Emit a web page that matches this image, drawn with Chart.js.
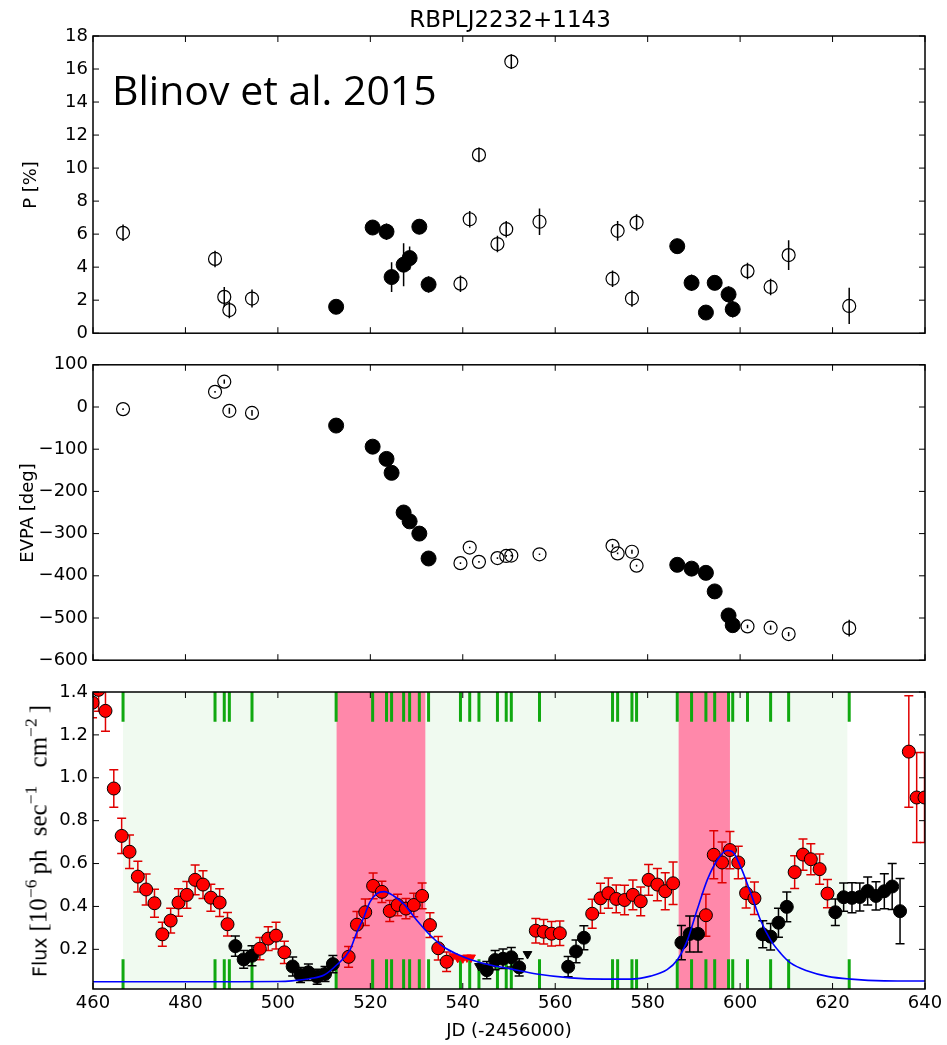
<!DOCTYPE html>
<html>
<head>
<meta charset="utf-8">
<script src="https://cdn.jsdelivr.net/npm/chart.js@4.4.1/dist/chart.umd.min.js"></script>
<style>
    body { margin: 0; background: #fff; width: 947px; height: 1045px; position: relative; overflow: hidden; font-family: "DejaVu Sans", sans-serif; color: #000; }
    canvas { position: absolute; left: 0; }
    .txt { position: absolute; white-space: nowrap; line-height: 1; }
    .ylab { position: absolute; white-space: nowrap; line-height: 1; font-size: 18px; transform: translate(-50%, -50%) rotate(-90deg); }
    .m { font-family: "Liberation Serif", "DejaVu Serif", serif; font-size: 25px; word-spacing: 7px; }
    sup { font-size: 0.7em; vertical-align: 0.55em; line-height: 0; margin-right: 5px; }
</style>
</head>
<body>
<canvas id="cP" width="947" height="349" style="top:0"></canvas>
<canvas id="cE" width="947" height="327" style="top:349px"></canvas>
<canvas id="cF" width="947" height="369" style="top:676px"></canvas>

<div class="txt" style="left:510px; top:8px; font-size:23px; transform:translateX(-50%)">RBPLJ2232+1143</div>
<div class="txt" style="left:112px; top:69px; font-family:'Open Sans', sans-serif; font-size:41px">Blinov et al. 2015</div>
<div class="ylab" style="left:30px; top:185px">P [%]</div>
<div class="ylab" style="left:27px; top:513px">EVPA [deg]</div>
<div class="ylab" style="left:38px; top:841px; font-size:19px">Flux <span class="m">[10<sup>−6</sup>ph sec<sup>−1</sup> cm<sup>−2</sup>]</span></div>
<div class="txt" style="left:509px; top:1021px; font-size:18px; transform:translateX(-50%)">JD (-2456000)</div>

<script>
// axis ticks
const JD_TICKS = [460, 480, 500, 520, 540, 560, 580, 600, 620, 640];
const P_TICKS = [0, 2, 4, 6, 8, 10, 12, 14, 16, 18];
const EVPA_TICKS = [-600, -500, -400, -300, -200, -100, 0, 100];
const FLUX_TICKS = [0.2, 0.4, 0.6, 0.8, 1.0, 1.2, 1.4];

// optical polarization (RoboPol)
const POL_JD = [466.5, 486.4, 488.4, 489.5, 494.4, 512.6, 520.5, 523.5, 524.6, 527.2, 528.5, 530.6, 532.6,
    539.5, 541.5, 543.5, 547.5, 549.4, 550.5, 556.6, 572.4, 573.5, 576.6, 577.6,
    586.4, 589.5, 592.6, 594.5, 597.5, 598.4, 601.6, 606.6, 610.5, 623.6];
const POL_P = [6.08, 4.5, 2.2, 1.4, 2.1, 1.6, 6.4, 6.15, 3.4, 4.15, 4.55, 6.45, 2.95,
    3.0, 6.9, 10.8, 5.4, 6.3, 16.45, 6.75, 3.3, 6.2, 2.1, 6.7,
    5.27, 3.05, 1.25, 3.05, 2.35, 1.45, 3.76, 2.8, 4.73, 1.65];
const POL_P_ERR = [0.5, 0.5, 0.6, 0.5, 0.55, 0.35, 0.4, 0.5, 0.9, 1.3, 0.7, 0.45, 0.5,
    0.5, 0.5, 0.45, 0.5, 0.5, 0.45, 0.8, 0.5, 0.6, 0.5, 0.5,
    0.45, 0.5, 0.4, 0.45, 0.5, 0.5, 0.5, 0.5, 0.9, 1.1];
const POL_EVPA = [-5, 36, 60, -9, -14, -44, -94, -123, -156, -250, -271, -300, -359,
    -370, -333, -367, -358, -353, -352, -349, -329, -347, -343, -376,
    -374, -383, -393, -437, -494, -517, -520, -523, -538, -524];
const POL_EVPA_ERR = [2, 2, 5, 7, 7, 3, 2, 2, 6, 8, 5, 2, 4,
    2, 2, 2, 2, 2, 2, 2, 4, 2, 5, 2,
    2, 2, 5, 3, 4, 5, 4, 5, 5, 20];
const POL_IN_ROTATION = [0, 0, 0, 0, 0, 1, 1, 1, 1, 1, 1, 1, 1,
    0, 0, 0, 0, 0, 0, 0, 0, 0, 0, 0,
    1, 1, 1, 1, 1, 1, 0, 0, 0, 0];

// shaded periods
const MONITORING_SPAN = [466.5, 623.2];
const ROTATION_SPANS = [[512.7, 531.9], [586.7, 597.8]];

// gamma-ray flux (Fermi-LAT)
const RED_JD = [459.9, 461.2, 462.7, 464.5, 466.2, 467.9, 469.7, 471.5, 473.3, 475.0, 476.8, 478.5, 480.3, 482.1,
    483.8, 485.5, 487.4, 489.1, 496.1, 497.9, 499.6, 501.4, 515.3, 517.1, 518.9, 520.6, 522.5, 524.2,
    525.9, 527.7, 529.4, 531.2, 532.9, 534.7, 536.5, 555.8, 557.5, 559.2, 561.0, 568.0, 569.8, 571.5,
    573.2, 575.0, 576.8, 578.5, 580.2, 582.1, 583.8, 585.5, 592.6, 594.3, 596.1, 597.8, 599.6, 601.3,
    603.1, 611.8, 613.6, 615.3, 617.2, 618.9, 636.5, 638.2, 639.9];
const RED_FLUX = [1.35, 1.41, 1.312, 0.95, 0.729, 0.655, 0.539, 0.479, 0.415, 0.27, 0.334, 0.418, 0.454, 0.524,
    0.502, 0.441, 0.418, 0.317, 0.203, 0.25, 0.264, 0.186, 0.165, 0.315, 0.373, 0.496, 0.468, 0.379,
    0.407, 0.39, 0.407, 0.449, 0.313, 0.205, 0.142, 0.287, 0.282, 0.273, 0.275, 0.366, 0.438, 0.462,
    0.435, 0.43, 0.454, 0.424, 0.524, 0.502, 0.471, 0.508, 0.359, 0.641, 0.605, 0.663, 0.605, 0.462,
    0.438, 0.56, 0.642, 0.62, 0.574, 0.46, 1.122, 0.908, 0.908];
const RED_ERR = [0.07, 0.10, 0.095, 0.087, 0.082, 0.078, 0.072, 0.072, 0.065, 0.056, 0.058, 0.064, 0.062, 0.069,
    0.065, 0.063, 0.065, 0.055, 0.052, 0.055, 0.062, 0.052, 0.048, 0.061, 0.062, 0.06, 0.05, 0.049,
    0.05, 0.047, 0.055, 0.06, 0.058, 0.055, 0.045, 0.057, 0.057, 0.057, 0.057, 0.068, 0.07, 0.071,
    0.065, 0.069, 0.069, 0.067, 0.072, 0.075, 0.086, 0.099, 0.098, 0.112, 0.095, 0.087, 0.076, 0.069,
    0.076, 0.076, 0.073, 0.072, 0.071, 0.066, 0.26, 0.21, 0.21];
const BLACK_JD = [490.8, 492.6, 494.4, 503.2, 504.9, 506.6, 508.5, 510.2, 511.9, 545.2, 547.0, 548.7, 550.5,
    552.2, 562.8, 564.5, 566.2, 587.3, 589.1, 590.9, 604.9, 606.6, 608.3, 610.1, 620.6, 622.4, 624.2,
    625.9, 627.6, 629.4, 631.2, 632.9, 634.6];
const BLACK_FLUX = [0.215, 0.153, 0.17, 0.12, 0.08, 0.093, 0.072, 0.085, 0.131, 0.103, 0.15, 0.156, 0.163,
    0.116, 0.119, 0.19, 0.254, 0.231, 0.272, 0.272, 0.27, 0.259, 0.324, 0.398, 0.373, 0.443, 0.44,
    0.444, 0.472, 0.449, 0.471, 0.493, 0.378];
const BLACK_ERR = [0.047, 0.041, 0.047, 0.044, 0.035, 0.038, 0.035, 0.035, 0.04, 0.04, 0.045, 0.045, 0.045,
    0.04, 0.047, 0.053, 0.056, 0.08, 0.084, 0.084, 0.063, 0.062, 0.068, 0.069, 0.062, 0.066, 0.07,
    0.065, 0.065, 0.066, 0.082, 0.107, 0.152];
const RED_UL_JD = [537.9, 538.9, 540.0, 540.9, 541.8];
const RED_UL = [0.168, 0.16, 0.158, 0.162, 0.162];
const BLACK_UL_JD = [543.5, 554.0];
const BLACK_UL = [0.122, 0.178];

// model curve
const MODEL_JD = [460, 490, 500, 503, 507, 510, 512.7, 515.6, 517, 518.5, 519.9, 521.4, 523, 525, 527.2, 530,
    532.9, 535.8, 538.7, 541.6, 545.9, 550.3, 556, 563.3, 570.5, 576.3, 580.6, 584.2, 586.4, 588.6,
    590.7, 592.9, 595.1, 597.2, 598.3, 600.1, 602.3, 604.4, 606.6, 608.8, 610.9, 614.6, 618.9, 624,
    631.2, 640];
const MODEL_FLUX = [0.049, 0.049, 0.050, 0.053, 0.064, 0.08, 0.127, 0.197, 0.275, 0.345, 0.42, 0.46, 0.469,
    0.45, 0.412, 0.337, 0.267, 0.212, 0.178, 0.153, 0.127, 0.109, 0.085, 0.067, 0.061, 0.061, 0.075,
    0.105, 0.15, 0.243, 0.384, 0.524, 0.618, 0.661, 0.656, 0.586, 0.462, 0.337, 0.243, 0.181, 0.137,
    0.099, 0.074, 0.061, 0.053, 0.052];

const TICK_FONT = {family: '"DejaVu Sans", sans-serif', size: 18};

function l(element) {
    return document.getElementById(element);
}

function points(xs, ys, errs, keep) {
    let out = [];
    for (let i = 0; i < xs.length; i++) {
        if (keep && !keep(i)) continue;
        out.push({x: xs[i], y: ys[i], err: errs ? errs[i] : 0});
    }
    return out;
}

function clipArea(ctx, a) {
    ctx.beginPath();
    ctx.rect(a.left, a.top, a.right - a.left, a.bottom - a.top);
    ctx.clip();
}

// shaded periods and green observation markers
const spans = {
    id: 'spans',
    beforeDatasetsDraw(chart) {
        const ctx = chart.ctx, a = chart.chartArea, x = chart.scales.x;
        const h = a.bottom - a.top;
        ctx.save();
        clipArea(ctx, a);
        let x0 = x.getPixelForValue(MONITORING_SPAN[0]), x1 = x.getPixelForValue(MONITORING_SPAN[1]);
        ctx.fillStyle = '#f0faf0';
        ctx.fillRect(x0, a.top, x1 - x0, h);
        ctx.fillStyle = '#ff88aa';
        for (let s of ROTATION_SPANS) {
            x0 = x.getPixelForValue(s[0]);
            x1 = x.getPixelForValue(s[1]);
            ctx.fillRect(x0, a.top, x1 - x0, h);
        }
        ctx.strokeStyle = '#10a810';
        ctx.lineWidth = 3;
        ctx.beginPath();
        for (let jd of POL_JD) {
            let px = x.getPixelForValue(jd);
            ctx.moveTo(px, a.top);
            ctx.lineTo(px, a.top + 0.1 * h);
            ctx.moveTo(px, a.bottom - 0.1 * h);
            ctx.lineTo(px, a.bottom);
        }
        ctx.stroke();
        ctx.restore();
    }
};

const errorBars = {
    id: 'errorBars',
    beforeDatasetsDraw(chart) {
        const ctx = chart.ctx, y = chart.scales.y;
        ctx.save();
        clipArea(ctx, chart.chartArea);
        chart.data.datasets.forEach((ds, i) => {
            if (!ds.errColor) return;
            const meta = chart.getDatasetMeta(i);
            ctx.strokeStyle = ds.errColor;
            ctx.lineWidth = 1.5;
            ds.data.forEach((p, j) => {
                const px = meta.data[j].x;
                const lo = y.getPixelForValue(p.y - p.err);
                const hi = y.getPixelForValue(p.y + p.err);
                ctx.beginPath();
                ctx.moveTo(px, lo);
                ctx.lineTo(px, hi);
                if (ds.cap) {
                    ctx.moveTo(px - ds.cap, lo);
                    ctx.lineTo(px + ds.cap, lo);
                    ctx.moveTo(px - ds.cap, hi);
                    ctx.lineTo(px + ds.cap, hi);
                }
                ctx.stroke();
            });
        });
        ctx.restore();
    }
};

// box with inward ticks, matplotlib style
const frame = {
    id: 'frame',
    afterDatasetsDraw(chart) {
        const ctx = chart.ctx, a = chart.chartArea, x = chart.scales.x, y = chart.scales.y;
        ctx.save();
        ctx.strokeStyle = '#000';
        ctx.lineWidth = 1;
        ctx.beginPath();
        for (let v of JD_TICKS) {
            let px = x.getPixelForValue(v);
            ctx.moveTo(px, a.top);
            ctx.lineTo(px, a.top + 6);
            ctx.moveTo(px, a.bottom);
            ctx.lineTo(px, a.bottom - 6);
        }
        for (let t of y.ticks) {
            let py = y.getPixelForValue(t.value);
            ctx.moveTo(a.left, py);
            ctx.lineTo(a.left + 6, py);
            ctx.moveTo(a.right, py);
            ctx.lineTo(a.right - 6, py);
        }
        ctx.stroke();
        ctx.lineWidth = 1.5;
        ctx.strokeRect(a.left, a.top, a.right - a.left, a.bottom - a.top);
        ctx.restore();
    }
};

function makeChart(id, datasets, yMin, yMax, yTicks, yLabel, padding, showX, plugins) {
    return new Chart(l(id), {
        type: 'scatter',
        data: {datasets: datasets},
        options: {
            responsive: false,
            animation: false,
            events: [],
            layout: {padding: padding},
            plugins: {legend: {display: false}, tooltip: {enabled: false}},
            scales: {
                x: {
                    type: 'linear', min: 460, max: 640, display: showX,
                    afterBuildTicks: s => { s.ticks = JD_TICKS.map(v => ({value: v})); },
                    afterFit: s => { s.height = showX ? 40 : 0; },
                    grid: {display: false, drawTicks: false},
                    border: {display: false},
                    ticks: {font: TICK_FONT, color: '#000', padding: 4, maxRotation: 0, autoSkip: false}
                },
                y: {
                    type: 'linear', min: yMin, max: yMax,
                    afterBuildTicks: s => { s.ticks = yTicks.map(v => ({value: v})); },
                    afterFit: s => { s.width = 93; },
                    grid: {display: false, drawTicks: false},
                    border: {display: false},
                    ticks: {font: TICK_FONT, color: '#000', padding: 5, autoSkip: false, callback: yLabel}
                }
            }
        },
        plugins: plugins
    });
}

const openCircle = {pointStyle: 'circle', pointRadius: 6.5, pointBackgroundColor: 'rgba(0,0,0,0)',
    pointBorderColor: '#000', pointBorderWidth: 1.2, errColor: '#000', cap: 0};
const filledCircle = {pointStyle: 'circle', pointRadius: 7.5, pointBackgroundColor: '#000',
    pointBorderColor: '#000', pointBorderWidth: 1, errColor: '#000', cap: 0};

const isFilled = i => POL_IN_ROTATION[i] === 1;
const isOpen = i => POL_IN_ROTATION[i] === 0;

makeChart('cP', [
    Object.assign({data: points(POL_JD, POL_P, POL_P_ERR, isOpen)}, openCircle),
    Object.assign({data: points(POL_JD, POL_P, POL_P_ERR, isFilled)}, filledCircle)
], 0, 18, P_TICKS, v => String(v), {left: 0, right: 22, top: 36, bottom: 15}, false, [errorBars, frame]);

makeChart('cE', [
    Object.assign({data: points(POL_JD, POL_EVPA, POL_EVPA_ERR, isOpen)}, openCircle),
    Object.assign({data: points(POL_JD, POL_EVPA, POL_EVPA_ERR, isFilled)}, filledCircle)
], -600, 100, EVPA_TICKS, v => String(v).replace('-', '\u2212'), {left: 0, right: 22, top: 15, bottom: 15}, false, [errorBars, frame]);

makeChart('cF', [
    {data: points(MODEL_JD, MODEL_FLUX), showLine: true, borderColor: '#0000ff', borderWidth: 1.6,
        pointRadius: 0, cubicInterpolationMode: 'monotone', fill: false, order: 0, clip: 0},
    {data: points(RED_JD, RED_FLUX, RED_ERR), pointStyle: 'circle', pointRadius: 6.5,
        pointBackgroundColor: '#ff0000', pointBorderColor: '#000', pointBorderWidth: 1,
        errColor: '#e00000', cap: 4.5, order: 1, clip: 0},
    {data: points(BLACK_JD, BLACK_FLUX, BLACK_ERR), pointStyle: 'circle', pointRadius: 6.5,
        pointBackgroundColor: '#000', pointBorderColor: '#000', pointBorderWidth: 1,
        errColor: '#000', cap: 4.5, order: 1, clip: 0},
    {data: points(RED_UL_JD, RED_UL), pointStyle: 'triangle', pointRotation: 180, pointRadius: 5,
        pointBackgroundColor: '#ff0000', pointBorderColor: '#ff0000', order: 1, clip: 0},
    {data: points(BLACK_UL_JD, BLACK_UL), pointStyle: 'triangle', pointRotation: 180, pointRadius: 5,
        pointBackgroundColor: '#000', pointBorderColor: '#000', order: 1, clip: 0}
], 0.015, 1.4, FLUX_TICKS, v => v.toFixed(1), {left: 0, right: 22, top: 16, bottom: 16}, true, [spans, errorBars, frame]);
</script>
</body>
</html>
